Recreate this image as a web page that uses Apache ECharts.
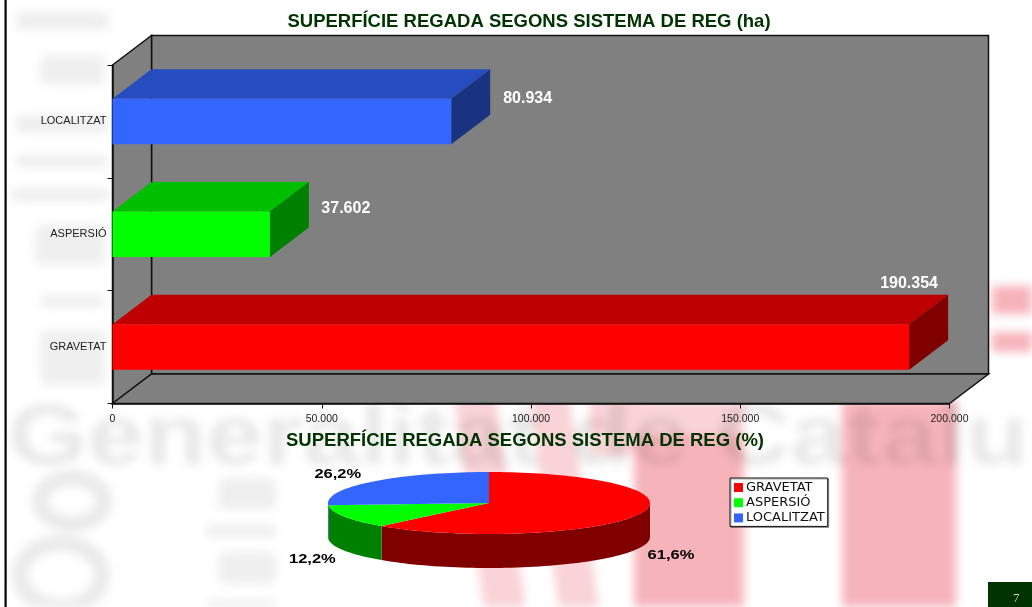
<!DOCTYPE html>
<html lang="ca">

<head>
  <meta charset="UTF-8">
  <title>Superfície regada</title>
  <script src="https://cdn.jsdelivr.net/npm/echarts@6/dist/echarts.min.js"></script>
  <style>
    html, body { margin: 0; padding: 0; background: #fff; overflow: hidden; }
    #fons { position: absolute; left: 0; top: 0; width: 1032px; height: 607px; overflow: hidden; filter: blur(5px); }
    #fons div { position: absolute; white-space: nowrap; font-family: "Liberation Sans", sans-serif; }
    .rosa { background: #f6b4ba; }
    .clar { background: #f9d3d7; }
    .blob { background: #efefef; border-radius: 8px; }
    .anell { border: 16px solid #eaeaea; border-radius: 50%; box-sizing: border-box; }
    #main { position: absolute; left: 0; top: 0; width: 1032px; height: 607px; }
  </style>
</head>

<body>
  <!-- marca d'aigua borrosa de la plantilla -->
  <div id="fons">
    <div class="rosa" style="left:992px;top:286px;width:50px;height:28px"></div>
    <div class="rosa" style="left:992px;top:332px;width:50px;height:20px"></div>
    <div class="clar" style="left:470px;top:395px;width:42px;height:230px;transform:skewX(8deg)"></div>
    <div class="clar" style="left:545px;top:395px;width:40px;height:230px;transform:skewX(8deg)"></div>
    <div class="clar" style="left:590px;top:395px;width:50px;height:60px"></div>
    <div class="rosa" style="left:634px;top:430px;width:110px;height:190px"></div>
    <div class="clar" style="left:634px;top:400px;width:110px;height:35px"></div>
    <div class="rosa" style="left:842px;top:400px;width:114px;height:220px"></div>
    <div class="blob" style="left:15px;top:12px;width:95px;height:18px"></div>
    <div class="blob" style="left:40px;top:55px;width:65px;height:30px"></div>
    <div class="blob" style="left:15px;top:115px;width:95px;height:18px"></div>
    <div class="blob" style="left:15px;top:155px;width:95px;height:12px"></div>
    <div class="blob" style="left:10px;top:188px;width:100px;height:14px"></div>
    <div class="blob" style="left:35px;top:225px;width:70px;height:40px"></div>
    <div class="blob" style="left:40px;top:295px;width:65px;height:12px"></div>
    <div class="blob" style="left:40px;top:330px;width:65px;height:55px"></div>
    <div style="left:8px;top:386px;font-size:85px;font-weight:bold;color:rgba(0,0,0,0.09);transform:scaleX(1.2);transform-origin:left top">Generalitat de Catalunya</div>
    <div class="anell" style="left:32px;top:470px;width:80px;height:62px"></div>
    <div class="anell" style="left:12px;top:535px;width:98px;height:80px"></div>
    <div class="blob" style="left:218px;top:478px;width:58px;height:32px"></div>
    <div class="blob" style="left:205px;top:525px;width:72px;height:12px"></div>
    <div class="blob" style="left:218px;top:552px;width:58px;height:32px"></div>
    <div class="blob" style="left:205px;top:600px;width:72px;height:20px"></div>
  </div>
  <div id="main"></div>
  <script type="text/javascript">
    var categories = ["GRAVETAT", "ASPERSIÓ", "LOCALITZAT"];
    var hectares = [190354, 37602, 80934];
    var xTicks = { min: 0, max: 200000, interval: 50000 };
    var title1 = "SUPERFÍCIE REGADA SEGONS SISTEMA DE REG (ha)";
    var title2 = "SUPERFÍCIE REGADA SEGONS SISTEMA DE REG (%)";

    var frontColors = ["#ff0000", "#00ff00", "#3366ff"];
    var topColors = ["#bf0000", "#00bf00", "#264dbf"];
    var sideColors = ["#800000", "#008000", "#1a3380"];

    var DEPTH_X = 39;
    var DEPTH_Y = -29.5;
    var BAR_SHARE = 0.403;
    // desplaçament de cada etiqueta respecte de la cantonada de la barra
    var labelNudge = [[-29, -40.5], [51.5, -3], [52, -0.5]];
    var pie = { cx: 489, cy: 503, rx: 161, ry: 31, depth: 34 };
    var pieLabelNudge = [[-3, 5], [1, 6], [-6, -3]];

    function dotted(n) {
      return String(n).replace(/(\d)(?=(\d{3})+$)/g, "$1.");
    }

    var myChart = echarts.init(document.getElementById("main"));

    function poly(points, fill, stroke) {
      return {
        type: "polygon",
        shape: { points: points },
        style: { fill: fill, stroke: stroke || null, lineWidth: stroke ? 1.5 : 0 }
      };
    }

    function renderWalls(params) {
      var c = params.coordSys;
      var l = c.x, r = c.x + c.width, t = c.y, b = c.y + c.height;
      var dx = DEPTH_X, dy = DEPTH_Y;
      return {
        type: "group",
        children: [
          poly([[l + dx, t + dy], [r + dx, t + dy], [r + dx, b + dy], [l + dx, b + dy]], "#808080", "#111"),
          poly([[l, t], [l + dx, t + dy], [l + dx, b + dy], [l, b]], "#808080", "#111"),
          poly([[l, b], [l + dx, b + dy], [r + dx, b + dy], [r, b]], "#808080", "#111")
        ]
      };
    }

    function renderBar(params, api) {
      var i = params.dataIndex;
      var end = api.coord([api.value(0), i]);
      var start = api.coord([0, i]);
      var h = api.size([0, 1])[1] * BAR_SHARE;
      var y0 = end[1] - h / 2, y1 = end[1] + h / 2;
      var x0 = start[0], x1 = end[0];
      var dx = DEPTH_X, dy = DEPTH_Y;
      return {
        type: "group",
        children: [
          poly([[x0, y0], [x0 + dx, y0 + dy], [x1 + dx, y0 + dy], [x1, y0]], topColors[i]),
          poly([[x1, y0], [x1 + dx, y0 + dy], [x1 + dx, y1 + dy], [x1, y1]], sideColors[i]),
          poly([[x0, y0], [x1, y0], [x1, y1], [x0, y1]], frontColors[i]),
          {
            type: "text",
            style: {
              x: x1 + labelNudge[i][0],
              y: y0 + labelNudge[i][1],
              text: dotted(api.value(0)),
              fill: "#fff",
              font: 'bold 16px "Liberation Sans"',
              align: "left",
              verticalAlign: "middle"
            }
          }
        ]
      };
    }

    function arcPoints(from, to, yShift) {
      var pts = [];
      var steps = Math.max(2, Math.ceil(Math.abs(to - from) / 2));
      for (var s = 0; s <= steps; s++) {
        var a = (from + (to - from) * s / steps) * Math.PI / 180;
        pts.push([pie.cx + pie.rx * Math.sin(a), pie.cy - pie.ry * Math.cos(a) + yShift]);
      }
      return pts;
    }

    function pieRenderer(idx) {
      return function (params, api) {
        var total = hectares.reduce(function (a, b) { return a + b; }, 0);
        var before = hectares.slice(0, idx).reduce(function (a, b) { return a + b; }, 0);
        var from = before / total * 360;
        var to = from + api.value(0) / total * 360;
        var children = [];
        var sFrom = Math.max(from, 90), sTo = Math.min(to, 270);
        if (sTo > sFrom) {
          var front = arcPoints(sFrom, sTo, 0);
          var back = arcPoints(sTo, sFrom, pie.depth);
          children.push(poly(front.concat(back), sideColors[idx]));
        }
        children.push(poly([[pie.cx, pie.cy]].concat(arcPoints(from, to, 0)), frontColors[idx]));
        var mid = (from + to) / 2 * Math.PI / 180;
        var below = Math.cos(mid) < 0;
        children.push({
          type: "text",
          x: pie.cx + pie.rx * 1.23 * Math.sin(mid) + pieLabelNudge[idx][0],
          y: pie.cy - pie.ry * 1.23 * Math.cos(mid) + (below ? pie.depth : 0) + pieLabelNudge[idx][1],
          scaleX: 1.27,
          style: {
            x: 0,
            y: 0,
            text: (api.value(0) / total * 100).toFixed(1).replace(".", ",") + "%",
            fill: "#000",
            font: 'bold 13px "Liberation Sans"',
            align: "center",
            verticalAlign: "middle"
          }
        });
        return { type: "group", children: children };
      };
    }

    var series = [
      {
        type: "custom",
        coordinateSystem: "cartesian2d",
        z: -1,
        silent: true,
        renderItem: renderWalls,
        clip: false,
        data: [[0, 0]],
        encode: { x: 0, y: 1 }
      },
      {
        type: "custom",
        coordinateSystem: "cartesian2d",
        z: 3,
        renderItem: renderBar,
        clip: false,
        data: hectares.map(function (v, i) { return [v, i]; }),
        encode: { x: 0, y: 1 }
      }
    ];

    categories.forEach(function (name, i) {
      series.push({
        name: name,
        type: "custom",
        coordinateSystem: "none",
        z: 3,
        itemStyle: { color: frontColors[i] },
        renderItem: pieRenderer(i),
        data: [[hectares[i]]]
      });
    });

    var option = {
      animation: false,
      title: [
        { text: title1, left: 524, top: 7, textAlign: "center", textStyle: { color: "#003300", fontFamily: "Liberation Sans", fontWeight: "bold", fontSize: 18.5 } },
        { text: title2, left: 520, top: 426, textAlign: "center", textStyle: { color: "#003300", fontFamily: "Liberation Sans", fontWeight: "bold", fontSize: 18.5 } }
      ],
      grid: { left: 112.5, top: 65, width: 837, height: 338.5 },
      xAxis: {
        type: "value",
        min: xTicks.min,
        max: xTicks.max,
        interval: xTicks.interval,
        splitLine: { show: false },
        axisLine: { show: true, lineStyle: { color: "#111", width: 1.5 } },
        axisTick: { show: true, length: 5, lineStyle: { color: "#111" } },
        axisLabel: { color: "#222", fontFamily: "Liberation Sans", fontSize: 10.5, margin: 10, formatter: dotted, hideOverlap: false }
      },
      yAxis: {
        type: "category",
        data: categories,
        axisLine: { show: true, lineStyle: { color: "#111", width: 1.5 } },
        axisTick: { show: true, length: 5, lineStyle: { color: "#111" } },
        axisLabel: { color: "#222", fontFamily: "Liberation Sans", fontSize: 11, margin: 6 }
      },
      legend: {
        data: categories,
        orient: "vertical",
        left: 730,
        top: 478,
        padding: [3, 3, 2, 4],
        itemWidth: 9,
        itemHeight: 9,
        itemGap: 2.2,
        icon: "rect",
        borderColor: "#111",
        borderWidth: 1,
        backgroundColor: "#fff",
        shadowColor: "rgba(0,0,0,0.35)",
        shadowOffsetX: 1,
        shadowOffsetY: 1,
        selectedMode: false,
        textStyle: { color: "#111", fontFamily: "DejaVu Sans", fontSize: 13, padding: [0, 0, 0, -2] }
      },
      graphic: [
        { type: "rect", left: 4.5, top: 0, shape: { width: 2.2, height: 607 }, style: { fill: "#000" } },
        { type: "rect", left: 988, top: 582, shape: { width: 44, height: 25 }, style: { fill: "#003300" } },
        { type: "text", left: 1013, top: 592, style: { text: "7", fill: "#ccc", font: '13px "Liberation Serif"' } }
      ],
      series: series
    };
    myChart.setOption(option);
  </script>
</body>

</html>
